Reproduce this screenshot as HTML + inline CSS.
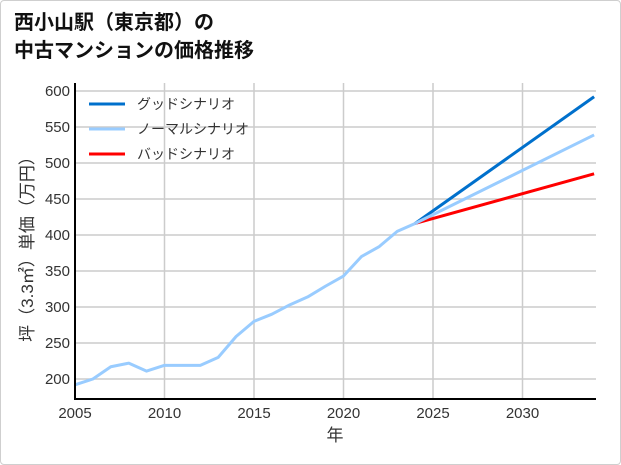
<!DOCTYPE html>
<html><head><meta charset="utf-8"><style>
body{margin:0;background:#fff;}
#wrap{position:absolute;left:0;top:0;width:619px;height:463px;border:1px solid #cfcfcf;border-radius:4px;background:#fff;}
.t{font-family:"Liberation Sans","Noto Sans CJK JP",sans-serif;}
</style></head><body>
<div id="wrap">
<div class="t" style="position:absolute;left:13px;top:8px;font-size:20px;font-weight:bold;line-height:28px;color:#111;">西小山駅（東京都）の<br>中古マンションの価格推移</div>
<svg id="c" width="621" height="465" style="position:absolute;left:-1px;top:-1px"></svg>
</div>
<script>
const years=[2005,2006,2007,2008,2009,2010,2011,2012,2013,2014,2015,2016,2017,2018,2019,2020,2021,2022,2023,2024];
const history=[192,200,217,222,211,219,219,219,230,259,280,290,303,314,329,343,370,384,405,416];
const projYears=[2024,2034];
const good=[416,592];
const normal=[416,539];
const bad=[416,485];
const xTicks=[2005,2010,2015,2020,2025,2030];
const yTicks=[200,250,300,350,400,450,500,550,600];
const NS="http://www.w3.org/2000/svg";
const svg=document.getElementById('c');
const L=75,R=596,T=83,B=399;
const X=y=>L+(y-2005)*17.9;
const Y=v=>379-(v-200)*0.72;
function el(t,a,p){const e=document.createElementNS(NS,t);for(const k in a)e.setAttribute(k,a[k]);(p||svg).appendChild(e);return e;}
xTicks.forEach(t=>{const g=el('line',{x1:X(t),x2:X(t),y1:T,y2:B,stroke:'#cccccc','stroke-width':1.5});

const tx=el('text',{x:X(t),y:418,'text-anchor':'middle','font-size':15,fill:'#333',class:'t'});tx.textContent=t;
});
yTicks.forEach(t=>{const g=el('line',{x1:L,x2:R,y1:Y(t),y2:Y(t),stroke:'#cccccc','stroke-width':1.5});

const tx=el('text',{x:L-5,y:Y(t)+5,'text-anchor':'end','font-size':15,fill:'#333',class:'t'});tx.textContent=t;
});
function line(xs,vs,c,name){const p=el('polyline',{points:xs.map((x,i)=>X(x)+','+Y(vs[i])).join(' '),fill:'none',stroke:c,'stroke-width':3,'stroke-linejoin':'round'});
}
line(projYears,bad,'#ff0000','bad-scenario-line');
line(projYears,good,'#0070cc','good-scenario-line');
line(projYears,normal,'#99ccff','normal-scenario-line');
line(years,history,'#99ccff','history-line');
const ax=el('path',{d:`M${L},${T} V${B} H${R}`,fill:'none',stroke:'#000','stroke-width':2});

const xl=el('text',{x:335,y:441,'text-anchor':'middle','font-size':17,fill:'#333',class:'t'});xl.textContent='年';

const yl=el('text',{x:0,y:0,'text-anchor':'middle','font-size':17,fill:'#333',class:'t',transform:'translate(33,245) rotate(-90)'});yl.textContent='坪（3.3㎡）単価（万円）';

const leg=[['グッドシナリオ','#0070cc'],['ノーマルシナリオ','#99ccff'],['バッドシナリオ','#ff0000']];
leg.forEach((d,i)=>{const y=104+i*25;
const g=el('g',{});
el('line',{x1:89,x2:125,y1:y,y2:y,stroke:d[1],'stroke-width':3},g);
const t=el('text',{x:137,y:y+5,'font-size':14,fill:'#333',class:'t'},g);t.textContent=d[0];});
</script>
</body></html>
